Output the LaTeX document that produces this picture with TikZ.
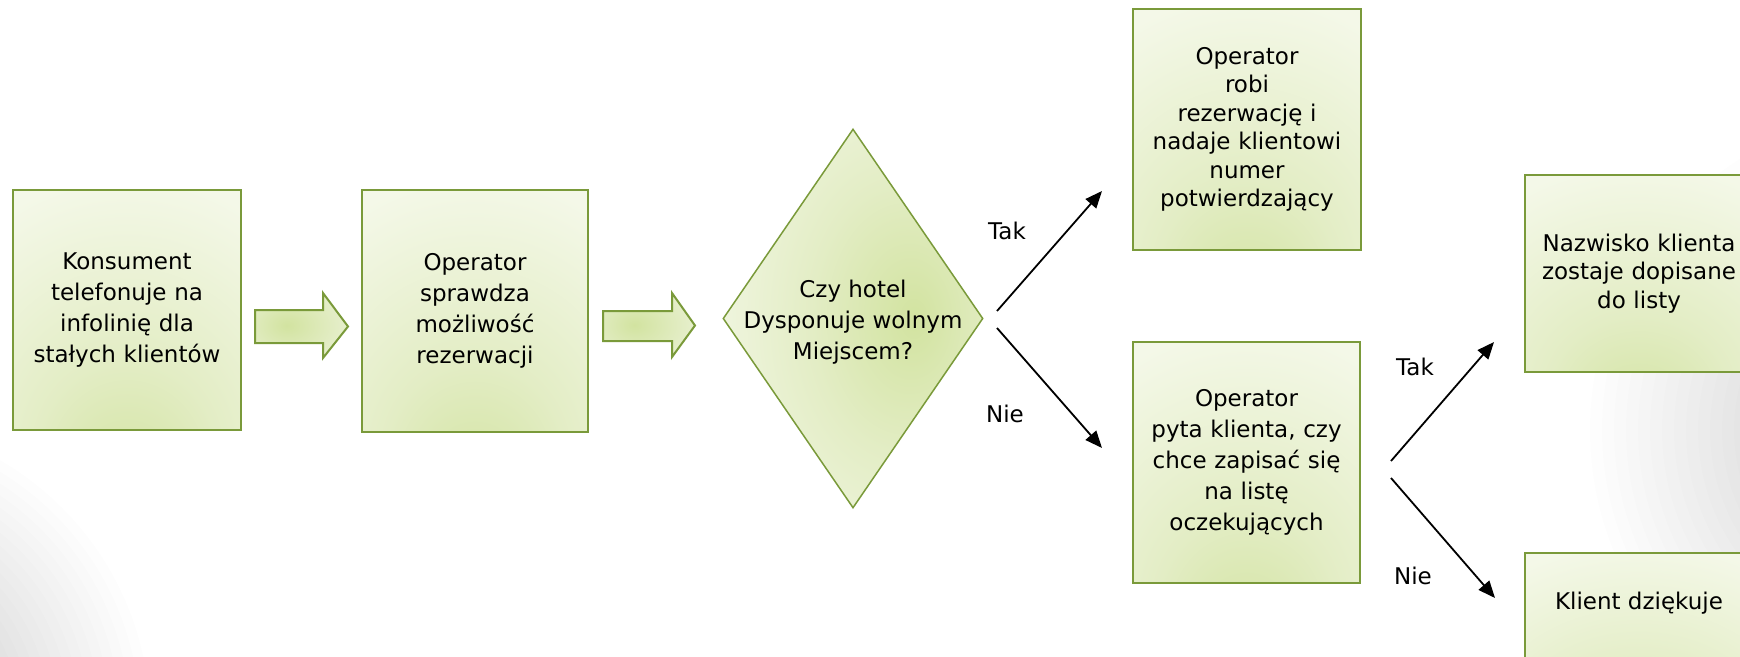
\documentclass[tikz,border=0pt]{standalone}
\usepackage{fontspec}
\setmainfont{DejaVu Sans}
\usetikzlibrary{shapes.geometric,arrows.meta}
\definecolor{bordergreen}{HTML}{7A9A3A}
\definecolor{gDark}{HTML}{D2E3A0}
\definecolor{gMid}{HTML}{E3EDC5}
\definecolor{gLight}{HTML}{F4F8E8}
\pgfdeclareradialshading{boxglow}{\pgfpoint{0bp}{-38bp}}{color(0bp)=(gDark); color(20bp)=(gMid); color(48bp)=(gLight); color(100bp)=(gLight)}
\pgfdeclareradialshading{diaglow}{\pgfpoint{12bp}{0bp}}{color(0bp)=(gDark); color(18bp)=(gMid); color(40bp)=(gLight); color(100bp)=(gLight)}
\pgfdeclareradialshading{arrglow}{\pgfpoint{-8bp}{0bp}}{color(0bp)=(gDark); color(25bp)=(gMid); color(50bp)=(gLight); color(100bp)=(gLight)}
\tikzset{
  box/.style={rectangle, draw=bordergreen, line width=2pt, shading=boxglow,
    inner sep=0pt, align=center, text=black},
  blockarrow/.style={draw=bordergreen, line width=2pt, shading=arrglow, line join=miter},
  conn/.style={draw=black, line width=1.8pt, -{Triangle[length=17pt,width=14pt]}},
  lbl/.style={font=\fontsize{23}{31}\selectfont, inner sep=0pt},
  txt31/.style={font=\fontsize{23}{31}\selectfont},
  txt28/.style={font=\fontsize{23}{28.5}\selectfont},
  bgring/.style={fill=black, fill opacity=0.008, draw=none}
}
\begin{document}
\begin{tikzpicture}[x=1pt,y=-1pt]
\useasboundingbox (0,0) rectangle (1740,656);
\begin{scope}
\clip (0,0) rectangle (1740,656);
\fill[white] (0,0) rectangle (1740,656);
\foreach \r in {300,290,...,10} { \path[bgring] (-150,720) circle (\r); }
\foreach \r in {320,308,...,8} { \path[bgring] (1910,430) circle (\r); }

% boxes
\node[box, txt31, minimum width=228pt, minimum height=240pt, text width=228pt] (b1) at (127,310)
  {Konsument\\telefonuje na\\infolinię dla\\stałych klientów};
\node[box, txt31, minimum width=226pt, minimum height=242pt, text width=226pt] (b2) at (475,311)
  {Operator\\sprawdza\\możliwość\\rezerwacji};
\node[diamond, draw=bordergreen, line width=1.5pt, shading=diaglow, inner sep=0pt,
  minimum width=260pt, minimum height=379pt] (dec) at (853,318.5) {};
\node[txt31, align=center, inner sep=0pt] (dect) at (853,322)
  {Czy hotel\\Dysponuje wolnym\\Miejscem?};
\node[box, txt28, minimum width=228pt, minimum height=241pt, text width=228pt] (b3) at (1247,129.5)
  {Operator\\robi\\rezerwację i\\nadaje klientowi\\numer\\potwierdzający};
\node[box, txt31, minimum width=227pt, minimum height=241pt, text width=227pt] (b4) at (1246.5,462.5)
  {Operator\\pyta klienta, czy\\chce zapisać się\\na listę\\oczekujących};
\node[box, txt28, minimum width=228pt, minimum height=197pt, text width=228pt] (b5) at (1639,273.5)
  {Nazwisko klienta\\zostaje dopisane\\do listy};
\node[box, minimum width=228pt, minimum height=170pt] (b6) at (1639,638) {};
\node[lbl] (b6t) at (1639,603) {Klient dziękuje};
\end{scope}

% block arrows
\coordinate (a1) at (255,326.5);
\draw[blockarrow] (a1) ++(0,-16.5) -- ++(68,0) -- ++(0,-17) -- (348,326.5)
  -- (323,358) -- (323,343) -- (255,343) -- cycle;
\coordinate (a2) at (603,326);
\draw[blockarrow] (a2) ++(0,-15) -- ++(69,0) -- ++(0,-18) -- (695,325.5)
  -- (672,357) -- (672,341) -- (603,341) -- cycle;

% connectors
\coordinate (t1s) at (997,311);
\coordinate (t1e) at (1102,191);
\coordinate (n1s) at (997,328);
\coordinate (n1e) at (1102,448);
\coordinate (t2s) at (1391,461);
\coordinate (t2e) at (1494,342);
\coordinate (n2s) at (1391,478);
\coordinate (n2e) at (1495,598);
\draw[conn] (t1s) -- (t1e);
\draw[conn] (n1s) -- (n1e);
\draw[conn] (t2s) -- (t2e);
\draw[conn] (n2s) -- (n2e);

\node[lbl] (l1) at (1007,231) {Tak};
\node[lbl] (l2) at (1005,414) {Nie};
\node[lbl] (l3) at (1415,367) {Tak};
\node[lbl] (l4) at (1413,576) {Nie};
\end{tikzpicture}
\end{document}
